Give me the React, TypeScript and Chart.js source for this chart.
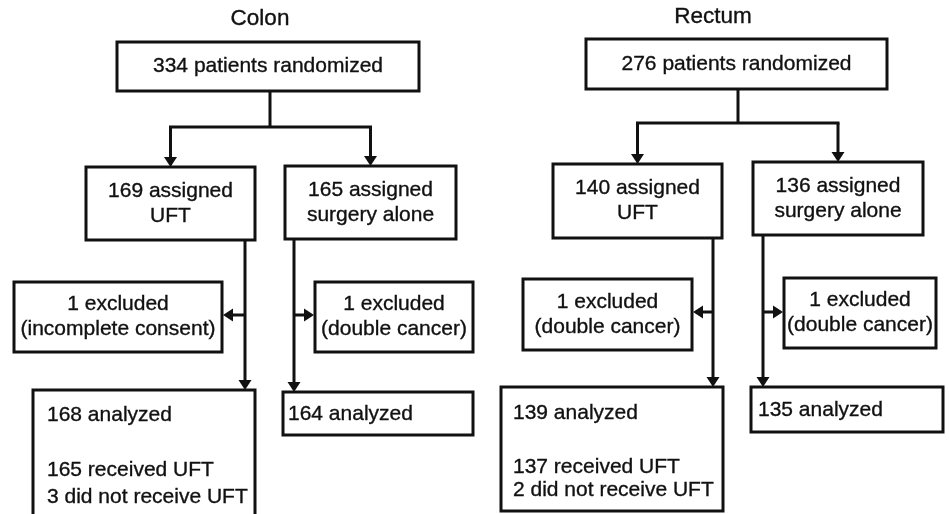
import React, { useEffect, useRef } from "react";
import { Chart, registerables } from "chart.js";

Chart.register(...registerables);

// ---- data (counts) ----
const groups = ["Colon", "Rectum"];
const randomized = [334, 276];
const assignedUFT = [169, 140];
const assignedSurgery = [165, 136];
const excludedUFT = [1, 1];
const excludedUFTReason = ["incomplete consent", "double cancer"];
const excludedSurgery = [1, 1];
const excludedSurgeryReason = ["double cancer", "double cancer"];
const analyzedUFT = [168, 139];
const receivedUFT = [165, 137];
const notReceivedUFT = [3, 2];
const analyzedSurgery = [164, 135];

// ---- layout (in scale units, which equal the picture's pixels) ----
type Box = [number, number, number, number];
interface Panel {
  title: [number, number];
  top: Box;
  stemX: number;
  splitY: number;
  uft: Box;
  surg: Box;
  uftDownX: number;
  surgDownX: number;
  exL: Box;
  exR: Box;
  exArrowY: number;
  anU: Box;
  anS: Box;
  anUText: [number, number, number, number];
  anSText: [number, number];
}
const panels: Panel[] = [
  {
    title: [260, 19],
    top: [117, 42, 419, 91],
    stemX: 270,
    splitY: 127,
    uft: [86, 167, 255, 240],
    surg: [285, 166, 456, 239],
    uftDownX: 245,
    surgDownX: 294,
    exL: [14, 282, 222, 352],
    exR: [315, 282, 473, 352],
    exArrowY: 315,
    anU: [33, 390, 255, 528],
    anS: [283, 392, 473, 435],
    anUText: [47, 415, 470, 497],
    anSText: [288, 414],
  },
  {
    title: [713, 17],
    top: [586, 39, 887, 89],
    stemX: 738,
    splitY: 123,
    uft: [553, 164, 722, 238],
    surg: [753, 162, 923, 235],
    uftDownX: 713,
    surgDownX: 763,
    exL: [523, 279, 692, 350],
    exR: [784, 278, 936, 348],
    exArrowY: 312,
    anU: [501, 387, 723, 511],
    anS: [751, 387, 943, 432],
    anUText: [513, 413, 467, 490],
    anSText: [758, 410],
  },
];

const INK = "#111111";
const FAMILY = "'Liberation Sans', Arial, Helvetica, sans-serif";
const FONT = `21px ${FAMILY}`;
const TITLE_FONT = `22.5px ${FAMILY}`;

const flowPlugin = {
  id: "flow",
  afterDraw(chart: any) {
    const ctx: CanvasRenderingContext2D = chart.ctx;
    const xs = chart.scales.x;
    const ys = chart.scales.y;
    const X = (v: number) => xs.getPixelForValue(v);
    const Y = (v: number) => ys.getPixelForValue(v);

    ctx.save();
    ctx.strokeStyle = INK;
    ctx.fillStyle = INK;
    ctx.lineCap = "butt";
    ctx.lineJoin = "miter";

    const text = (t: string, x: number, y: number) => {
      ctx.fillText(t, x, y);
      ctx.lineWidth = 0.35;
      ctx.strokeText(t, x, y);
      ctx.lineWidth = 3;
    };
    const rect = (b: Box) => {
      ctx.lineWidth = 3;
      ctx.strokeRect(X(b[0]), Y(b[1]), X(b[2]) - X(b[0]), Y(b[3]) - Y(b[1]));
    };
    const line = (x1: number, y1: number, x2: number, y2: number) => {
      ctx.lineWidth = 3;
      ctx.beginPath();
      ctx.moveTo(X(x1), Y(y1));
      ctx.lineTo(X(x2), Y(y2));
      ctx.stroke();
    };
    const headDown = (x: number, y: number) => {
      ctx.beginPath();
      ctx.moveTo(X(x), Y(y));
      ctx.lineTo(X(x) - 6.5, Y(y) - 10);
      ctx.lineTo(X(x) + 6.5, Y(y) - 10);
      ctx.closePath();
      ctx.fill();
    };
    const headSide = (x: number, y: number, dir: number) => {
      ctx.beginPath();
      ctx.moveTo(X(x), Y(y));
      ctx.lineTo(X(x) - dir * 10, Y(y) - 6.5);
      ctx.lineTo(X(x) - dir * 10, Y(y) + 6.5);
      ctx.closePath();
      ctx.fill();
    };
    const centered = (lines: string[], b: Box) => {
      ctx.font = FONT;
      ctx.textAlign = "center";
      ctx.textBaseline = "middle";
      const cx = (X(b[0]) + X(b[2])) / 2;
      const cy = (Y(b[1]) + Y(b[3])) / 2;
      const lh = 25;
      const start = cy - ((lines.length - 1) * lh) / 2;
      lines.forEach((t, i) => text(t, cx, start + i * lh));
    };
    const left = (t: string, x: number, y: number) => {
      ctx.font = FONT;
      ctx.textAlign = "left";
      ctx.textBaseline = "middle";
      text(t, X(x), Y(y));
    };

    panels.forEach((p, i) => {
      // title
      ctx.font = TITLE_FONT;
      ctx.textAlign = "center";
      ctx.textBaseline = "middle";
      text(groups[i], X(p.title[0]), Y(p.title[1]));

      // boxes
      rect(p.top);
      centered([`${randomized[i]} patients randomized`], p.top);
      rect(p.uft);
      centered([`${assignedUFT[i]} assigned`, "UFT"], p.uft);
      rect(p.surg);
      centered([`${assignedSurgery[i]} assigned`, "surgery alone"], p.surg);
      rect(p.exL);
      centered([`${excludedUFT[i]} excluded`, `(${excludedUFTReason[i]})`], p.exL);
      rect(p.exR);
      centered([`${excludedSurgery[i]} excluded`, `(${excludedSurgeryReason[i]})`], p.exR);
      rect(p.anU);
      left(`${analyzedUFT[i]} analyzed`, p.anUText[0], p.anUText[1]);
      left(`${receivedUFT[i]} received UFT`, p.anUText[0], p.anUText[2]);
      left(`${notReceivedUFT[i]} did not receive UFT`, p.anUText[0], p.anUText[3]);
      rect(p.anS);
      left(`${analyzedSurgery[i]} analyzed`, p.anSText[0], p.anSText[1]);

      // split from randomized box
      const ux = (p.uft[0] + p.uft[2]) / 2;
      const sx = (p.surg[0] + p.surg[2]) / 2;
      line(p.stemX, p.top[3], p.stemX, p.splitY);
      line(ux - 1.5, p.splitY, sx + 1.5, p.splitY);
      line(ux, p.splitY, ux, p.uft[1] - 9);
      headDown(ux, p.uft[1]);
      line(sx, p.splitY, sx, p.surg[1] - 9);
      headDown(sx, p.surg[1]);

      // down lines to analyzed
      line(p.uftDownX, p.uft[3], p.uftDownX, p.anU[1] - 9);
      headDown(p.uftDownX, p.anU[1]);
      line(p.surgDownX, p.surg[3], p.surgDownX, p.anS[1] - 9);
      headDown(p.surgDownX, p.anS[1]);

      // exclusion side arrows
      line(p.uftDownX, p.exArrowY, p.exL[2] + 9, p.exArrowY);
      headSide(p.exL[2] + 1, p.exArrowY, -1);
      line(p.surgDownX, p.exArrowY, p.exR[0] - 9, p.exArrowY);
      headSide(p.exR[0] - 1, p.exArrowY, 1);
    });
    ctx.restore();
  },
};

export default function App() {
  const ref = useRef<HTMLCanvasElement | null>(null);
  useEffect(() => {
    if (!ref.current) return;
    const chart = new Chart(ref.current, {
      type: "scatter",
      data: { datasets: [{ data: [], pointRadius: 0 }] },
      options: {
        animation: false,
        responsive: false,
        layout: { padding: 0 },
        plugins: { legend: { display: false }, tooltip: { enabled: false } },
        scales: {
          x: { type: "linear", min: 0, max: 949, display: false },
          y: { type: "linear", min: 0, max: 514, reverse: true, display: false },
        },
      },
      plugins: [flowPlugin],
    });
    return () => chart.destroy();
  }, []);
  return (
    <div style={{ position: "fixed", left: 0, top: 0, width: 949, height: 514, background: "#fff" }}>
      <canvas ref={ref} width={949} height={514} style={{ width: 949, height: 514 }} />
    </div>
  );
}
